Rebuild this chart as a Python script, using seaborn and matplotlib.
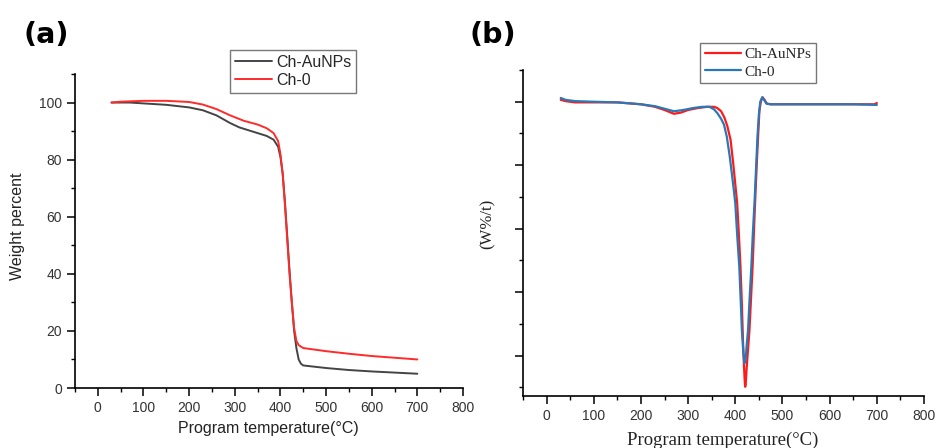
import pandas as pd
import matplotlib
matplotlib.use("Agg")
import matplotlib.pyplot as plt
import seaborn as sns
from matplotlib.ticker import MultipleLocator, NullFormatter

# ---- data ----
# (a) TGA: weight percent vs temperature
tga_auNPs_t = [30, 70, 100, 150, 200, 230, 260, 290, 310, 340, 370, 385, 395, 400, 405,
               410, 415, 420, 425, 430, 435, 440, 445, 450, 500, 550, 600, 650, 700]
tga_auNPs_w = [100, 100, 99.7, 99.2, 98.3, 97.3, 95.5, 92.8, 91.3, 89.8, 88.3, 87, 84.5, 81, 75,
               65, 53, 41, 30, 20, 14, 10, 8.5, 7.9, 7.0, 6.3, 5.8, 5.4, 5.0]

tga_ch0_t = [30, 50, 100, 150, 200, 230, 260, 290, 320, 350, 370, 385, 395, 400, 405,
             410, 415, 420, 425, 430, 435, 440, 450, 500, 550, 600, 650, 700]
tga_ch0_w = [100, 100.3, 100.6, 100.6, 100.2, 99.3, 97.7, 95.5, 93.6, 92.3, 91.0, 89.3, 86.5, 82, 75,
             64, 52, 40, 30, 21, 16.5, 15, 14, 12.9, 12, 11.2, 10.6, 10]

# (b) DTG (arbitrary units, no tick labels)
dtg_auNPs_t = [30, 40, 60, 100, 150, 200, 230, 250, 270, 285, 300, 320, 340, 355, 362, 370,
               377, 383, 390, 396, 400, 404, 408, 411, 414, 416, 418, 420, 421, 422, 424, 426,
               430, 433, 437, 440, 443, 446, 449, 451, 454, 458, 462, 467, 475, 500, 550, 600,
               650, 695, 700]
dtg_auNPs_v = [0.03, 0.01, -0.01, -0.01, -0.01, -0.04, -0.08, -0.13, -0.19, -0.17, -0.13, -0.10,
               -0.08, -0.08, -0.10, -0.15, -0.25, -0.38, -0.60, -1.0, -1.3, -1.6, -2.15, -2.6,
               -3.2, -3.7, -4.1, -4.4, -4.49, -4.45, -4.2, -4.0, -3.6, -3.15, -2.55, -1.95, -1.4,
               -0.9, -0.45, -0.15, 0.0, 0.07, 0.03, -0.03, -0.04, -0.04, -0.04, -0.04, -0.04,
               -0.04, -0.02]

dtg_ch0_t = [30, 40, 60, 100, 150, 200, 230, 250, 270, 290, 310, 330, 345, 355, 362, 370, 376,
             382, 388, 393, 397, 400, 404, 408.5, 411, 414, 417, 419.5, 422, 424, 427, 430, 434,
             437, 441, 444, 447, 450, 453, 457, 461, 466, 475, 500, 550, 600, 650, 700]
dtg_ch0_v = [0.06, 0.03, 0.01, 0.0, -0.01, -0.04, -0.07, -0.11, -0.15, -0.13, -0.10, -0.08,
             -0.08, -0.12, -0.18, -0.27, -0.36, -0.55, -0.85, -1.15, -1.4, -1.6, -2.1, -2.6,
             -3.05, -3.6, -3.95, -4.12, -4.05, -3.85, -3.6, -3.15, -2.6, -2.1, -1.55, -1.05,
             -0.55, -0.2, 0.0, 0.07, 0.03, -0.03, -0.04, -0.04, -0.04, -0.04, -0.04, -0.05]

sns.set_theme(style="ticks")
plt.rcParams["font.family"] = ["Liberation Sans", "DejaVu Sans"]
plt.rcParams["axes.linewidth"] = 1.2

W, H = 935, 448
fig = plt.figure(figsize=(W / 100, H / 100), dpi=100)

ax1 = fig.add_axes([75 / W, 1 - 388 / H, (463 - 75) / W, (388 - 74) / H])
ax2 = fig.add_axes([523 / W, 1 - 396 / H, (924 - 523) / W, (396 - 70) / H])

# ---- panel (a) ----
sns.lineplot(x=tga_auNPs_t, y=tga_auNPs_w, ax=ax1, color="#444444", lw=1.4, label="Ch-AuNPs")
sns.lineplot(x=tga_ch0_t, y=tga_ch0_w, ax=ax1, color="#ff2a2a", lw=1.4, label="Ch-0")

# ---- panel (b) ----
sns.lineplot(x=dtg_auNPs_t, y=dtg_auNPs_v, ax=ax2, color="#ff1a1a", lw=1.6, label="Ch-AuNPs")
sns.lineplot(x=dtg_ch0_t, y=dtg_ch0_v, ax=ax2, color="#2a78b8", lw=1.6, label="Ch-0")

for ax in (ax1, ax2):
    sns.despine(ax=ax)
    ax.set_xlim(-50, 800)
    ax.xaxis.set_major_locator(MultipleLocator(100))
    ax.xaxis.set_minor_locator(MultipleLocator(50))
    ax.tick_params(which="major", direction="out", length=6, width=1.1,
                   labelsize=10, labelcolor="#333333", color="black")
    ax.tick_params(which="minor", direction="out", length=3, width=1.0, color="black")
    for s in ("left", "bottom"):
        ax.spines[s].set_color("black")

ax1.set_ylim(0, 110)
ax1.yaxis.set_major_locator(MultipleLocator(20))
ax1.yaxis.set_minor_locator(MultipleLocator(10))
ax1.set_xlabel("")
ax1.set_ylabel("")

ax2.set_ylim(-4.635, 0.5)
ax2.yaxis.set_major_locator(MultipleLocator(1))
ax2.yaxis.set_minor_locator(MultipleLocator(0.5))
ax2.yaxis.set_major_formatter(NullFormatter())
ax2.set_xlabel("")
ax2.set_ylabel("")

# axis labels
fig.text(268 / W, 1 - 428 / H, "Program temperature(°C)", ha="center", va="center",
         fontsize=11.5, color="#222222")
fig.text(18 / W, 1 - 226 / H, "Weight percent", ha="center", va="center", rotation=90,
         fontsize=11.5, color="#222222")
fig.text(723 / W, 1 - 440 / H, "Program temperature(°C)", ha="center", va="center",
         fontsize=13.5, family=["Liberation Serif", "DejaVu Serif"], color="#222222")
fig.text(488 / W, 1 - 224 / H, "(W%/t)", ha="center", va="center", rotation=90,
         fontsize=12, family=["Liberation Serif", "DejaVu Serif"], color="#222222")

# panel letters
fig.text(23 / W, 1 - 21 / H, "(a)", ha="left", va="top", fontsize=20.5, fontweight="bold",
         family=["DejaVu Sans"], color="black")
fig.text(469 / W, 1 - 21 / H, "(b)", ha="left", va="top", fontsize=20.5, fontweight="bold",
         family=["DejaVu Sans"], color="black")

# legends
leg1 = ax1.legend(loc="upper left", bbox_to_anchor=(230 / W, 1 - 50 / H),
                  bbox_transform=fig.transFigure, borderaxespad=0, fancybox=False,
                  frameon=True, edgecolor="#555555", fontsize=11.5, handlelength=2.3,
                  handletextpad=0.3, labelspacing=0.2, borderpad=0.3)
leg1.get_frame().set_linewidth(1.0)

leg2 = ax2.legend(loc="upper left", bbox_to_anchor=(700 / W, 1 - 43 / H),
                  bbox_transform=fig.transFigure, borderaxespad=0, fancybox=False,
                  frameon=True, edgecolor="#555555", handlelength=2.4,
                  handletextpad=0.2, labelspacing=0.25, borderpad=0.3,
                  prop={"family": ["Liberation Serif", "DejaVu Serif"], "size": 11})
leg2.get_frame().set_linewidth(1.0)

fig.savefig("out.png", dpi=100)
